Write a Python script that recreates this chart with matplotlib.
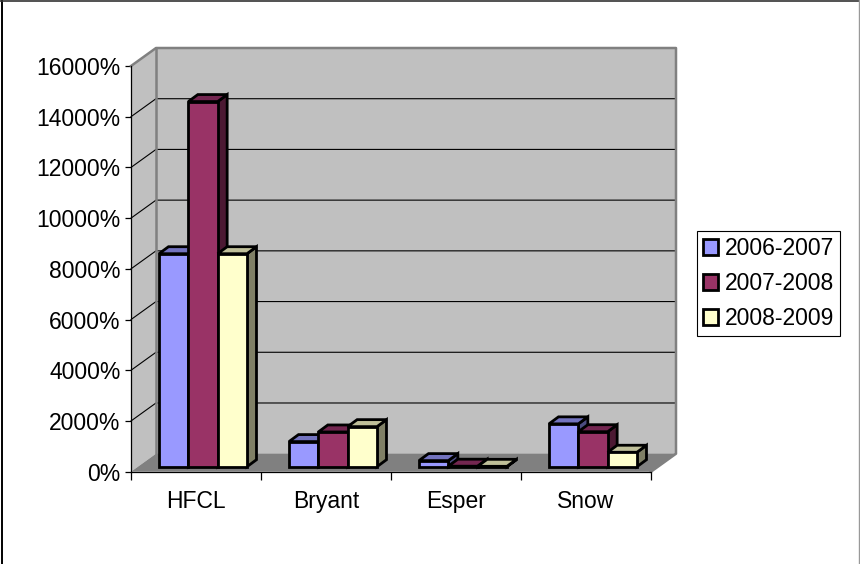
import matplotlib
matplotlib.use('Agg')
import matplotlib.pyplot as plt
from matplotlib.lines import Line2D
from matplotlib.patches import Polygon, Patch
plt.rcParams['font.family'] = ['Liberation Sans', 'DejaVu Sans']

categories = ['HFCL', 'Bryant', 'Esper', 'Snow']
series_names = ['2006-2007', '2007-2008', '2008-2009']
s2006 = [8400, 990, 240, 1690]
s2007 = [14400, 1370, 20, 1380]
s2008 = [8400, 1580, 15, 570]
yticks = [0, 2000, 4000, 6000, 8000, 10000, 12000, 14000, 16000]
ylabels = ['0%', '2000%', '4000%', '6000%', '8000%', '10000%', '12000%', '14000%', '16000%']

front = ['#9999FF', '#993366', '#FFFFCC']
top = ['#7373BF', '#732650', '#BFBF99']
side = ['#4C4C80', '#4C1933', '#808066']

W, H = 860, 564
fig = plt.figure(figsize=(W / 100, H / 100), dpi=100)
fig.patch.set_facecolor('white')
# outer border: no line along the bottom, right side is grey
fig.add_artist(Line2D([2 / W, 2 / W], [0, 1], color='black', lw=1.4))
fig.add_artist(Line2D([0, 1], [1 - 0.5 / H, 1 - 0.5 / H], color='#333333', lw=1.2))
fig.add_artist(Line2D([1 - 1 / W, 1 - 1 / W], [0, 1], color='#999999', lw=1.0))
ax = fig.add_axes([131 / W, 1 - 471.7 / H, 520 / W, 405.7 / H])
ax.set_xlim(0, 4)
ax.set_ylim(0, 16000)
ax.patch.set_visible(False)

# pixel sizes turned into data units
px_x = 4 / 520
px_y = 16000 / 405.7
dx = 25 * px_x
dy = 18 * px_y


def poly(pts, fc, ec='none', lw=0, z=1):
    ax.add_patch(Polygon(pts, closed=True, fc=fc, ec=ec, lw=lw, zorder=z, clip_on=False, joinstyle='miter'))


# walls and floor
poly([(0, 0), (dx, dy), (dx, 16000 + dy), (0, 16000)], '#C0C0C0', z=1)
poly([(dx, dy), (4 + dx, dy), (4 + dx, 16000 + dy), (dx, 16000 + dy)], '#C0C0C0', z=1)
for v in yticks[1:-1]:
    ax.plot([0, dx, 4 + dx], [v, v + dy, v + dy], color='black', lw=0.8, zorder=2, clip_on=False)
poly([(0, 0), (4, 0), (4 + dx, dy), (dx, dy)], '#808080', z=3)
ax.plot([0, dx, 4 + dx, 4 + dx, 4], [16000, 16000 + dy, 16000 + dy, dy, 0], color='#808080', lw=1.8, zorder=3, clip_on=False)
ax.plot([dx, dx], [dy, 16000 + dy], color='#808080', lw=1.8, zorder=3, clip_on=False)

# bars
bar_w = 29.33 * px_x
gap = 21 * px_x
off_x = 7 * px_x
off_y = 5 * px_y
dep_x = 9.5 * px_x
dep_y = 7 * px_y
z = 4
for i in range(len(categories)):
    for j, vals in enumerate([s2006, s2007, s2008]):
        x0 = i + gap + j * bar_w + off_x
        x1 = x0 + bar_w
        b = off_y
        t = off_y + vals[i]
        poly([(x1, b), (x1 + dep_x, b + dep_y), (x1 + dep_x, t + dep_y), (x1, t)], side[j], 'black', 2.0, z)
        poly([(x0, t), (x1, t), (x1 + dep_x, t + dep_y), (x0 + dep_x, t + dep_y)], top[j], 'black', 2.0, z)
        poly([(x0, b), (x1, b), (x1, t), (x0, t)], front[j], 'black', 2.0, z)
        z += 1

# axes
for s in ['top', 'right']:
    ax.spines[s].set_visible(False)
for s in ['left', 'bottom']:
    ax.spines[s].set_linewidth(0.9)
    ax.spines[s].set_zorder(30)
ax.set_yticks(yticks)
ax.set_yticklabels(ylabels, fontsize=16.5)
ax.set_xticks(range(5))
ax.set_xticklabels([])
ax.set_xticks([0.5, 1.5, 2.5, 3.5], categories, minor=True, fontsize=16.5)
ax.tick_params(axis='x', which='major', length=6, width=0.9)
ax.tick_params(axis='x', which='minor', length=0, pad=13)
ax.tick_params(axis='y', length=4.5, width=0.9, pad=3)

handles = [Patch(fc=front[k], ec='black', lw=2.0) for k in range(3)]
leg = ax.legend(handles, series_names, loc='center left', bbox_to_anchor=(697 / W, 1 - 283.5 / H),
                bbox_transform=fig.transFigure, fontsize=16.5, frameon=True, fancybox=False,
                edgecolor='black', framealpha=1, handlelength=0.65, handleheight=0.65,
                handletextpad=0.3, labelspacing=0.52, borderpad=0.26, borderaxespad=0)
leg.get_frame().set_linewidth(0.8)

fig.savefig('out.png', dpi=100)
